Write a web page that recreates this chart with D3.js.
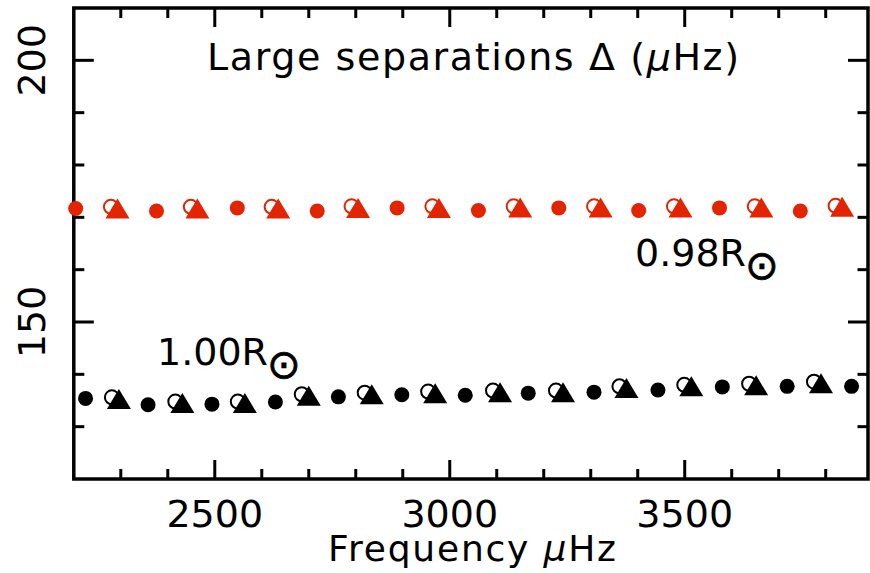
<!DOCTYPE html>
<html>
<head>
<meta charset="utf-8">
<script src="https://cdn.jsdelivr.net/npm/d3@7"></script>
<style>
  html, body { margin: 0; padding: 0; background: #fff; }
  svg { display: block; }
  text { font-family: "DejaVu Sans", sans-serif; fill: #000; }
</style>
</head>
<body>
<svg id="chart" width="870" height="573"></svg>
<script>
// ---- data ----
const xMajorTicks = [2500, 3000, 3500];
const yMajorTicks = [150, 200];

// 0.98 R_sun model (red)
const redFilledFreq  = [2204, 2376, 2548, 2718, 2888, 3061, 3232, 3402, 3574, 3746];
const redFilledDelta = [171.7, 171.2, 171.8, 171.2, 171.8, 171.3, 171.8, 171.3, 171.8, 171.2];
const redTriFreq     = [2293, 2463, 2635, 2805, 2977, 3150, 3321, 3491, 3663, 3835];
const redTriDelta    = [171.7, 171.7, 171.7, 171.8, 171.8, 171.9, 171.9, 171.9, 171.9, 172.0];
const redOpenFreq    = [2279, 2449, 2621, 2791, 2963, 3136, 3307, 3477, 3649, 3821];
const redOpenDelta   = [172.0, 172.0, 172.0, 172.1, 172.1, 172.1, 172.1, 172.1, 172.1, 172.2];

// 1.00 R_sun model (black)
const blackFilledFreq  = [2225, 2358, 2494, 2629, 2763, 2898, 3033, 3167, 3307, 3443, 3580, 3718, 3855];
const blackFilledDelta = [135.4, 134.2, 134.3, 134.7, 135.7, 136.1, 136.0, 136.4, 136.6, 137.0, 137.6, 137.7, 137.7];
const blackTriFreq     = [2296, 2431, 2564, 2700, 2834, 2969, 3107, 3241, 3376, 3514, 3652, 3790];
const blackTriDelta    = [135.3, 134.5, 134.5, 135.9, 136.2, 136.4, 136.6, 136.6, 137.4, 137.7, 137.9, 138.3];
const blackOpenFreq    = [2281, 2416, 2549, 2685, 2819, 2954, 3092, 3226, 3361, 3499, 3637, 3775];
const blackOpenDelta   = [135.6, 134.8, 134.8, 136.2, 136.5, 136.7, 136.9, 136.9, 137.7, 138.0, 138.2, 138.6];

const RED = "#e32400";
const BLACK = "#000000";

// ---- layout ----
const svg = d3.select("#chart");
const pLeft = 73.8, pRight = 868, pTop = 8, pBottom = 479;

const x = d3.scaleLinear().domain([2200, 3890]).range([pLeft, pRight]);
const y = d3.scaleLinear().domain([120, 210]).range([pBottom, pTop]);

const zip = (a, b) => a.map((v, i) => [v, b[i]]);

// ---- ticks (inward, all four sides) ----
const xMinor = d3.range(2300, 3890, 100);
const yMinor = d3.range(130, 210, 10);
const tickG = svg.append("g").attr("stroke", "#000").attr("stroke-width", 3);

xMinor.forEach(v => {
  const len = xMajorTicks.includes(v) ? 19 : 10;
  tickG.append("line").attr("x1", x(v)).attr("x2", x(v)).attr("y1", pBottom).attr("y2", pBottom - len);
  tickG.append("line").attr("x1", x(v)).attr("x2", x(v)).attr("y1", pTop).attr("y2", pTop + len);
});
yMinor.forEach(v => {
  const len = yMajorTicks.includes(v) ? 20 : 10.5;
  tickG.append("line").attr("y1", y(v)).attr("y2", y(v)).attr("x1", pLeft).attr("x2", pLeft + len);
  tickG.append("line").attr("y1", y(v)).attr("y2", y(v)).attr("x1", pRight).attr("x2", pRight - len);
});

// frame
svg.append("rect")
  .attr("x", pLeft).attr("y", pTop)
  .attr("width", pRight - pLeft).attr("height", pBottom - pTop)
  .attr("fill", "none").attr("stroke", "#000").attr("stroke-width", 3.5);

// tick labels
svg.append("g").selectAll("text").data(xMajorTicks).join("text")
  .attr("x", d => x(d)).attr("y", 527)
  .attr("text-anchor", "middle").attr("font-size", 38)
  .text(d => d);

svg.append("g").selectAll("text").data(yMajorTicks).join("text")
  .attr("transform", d => `translate(45,${y(d)}) rotate(-90)`)
  .attr("text-anchor", "middle").attr("font-size", 38)
  .text(d => d);

// axis title
const xt = svg.append("text")
  .attr("x", (pLeft + pRight) / 2 + 2).attr("y", 561)
  .attr("text-anchor", "middle").attr("font-size", 36)
  .attr("letter-spacing", 1.8);
xt.append("tspan").text("Frequency ");
xt.append("tspan").attr("font-style", "italic").text("\u03BC");
xt.append("tspan").text("Hz");

// plot title
const tt = svg.append("text")
  .attr("x", 207).attr("y", 70)
  .attr("font-size", 38)
  .attr("letter-spacing", 1.6);
tt.append("tspan").text("Large separations \u0394 (");
tt.append("tspan").attr("font-style", "italic").text("\u03BC");
tt.append("tspan").text("Hz)");

// ---- markers ----
const tri = "M0,-10L12,10L-12,10Z";

function drawSeries(color, openF, openD, triF, triD, fillF, fillD) {
  const g = svg.append("g");
  g.selectAll("circle.open").data(zip(openF, openD)).join("circle")
    .attr("class", "open")
    .attr("cx", d => x(d[0])).attr("cy", d => y(d[1])).attr("r", 7)
    .attr("fill", "none").attr("stroke", color).attr("stroke-width", 2);
  g.selectAll("path.tri").data(zip(triF, triD)).join("path")
    .attr("class", "tri")
    .attr("transform", d => `translate(${x(d[0])},${y(d[1])})`)
    .attr("d", tri).attr("fill", color);
  g.selectAll("circle.fill").data(zip(fillF, fillD)).join("circle")
    .attr("class", "fill")
    .attr("cx", d => x(d[0])).attr("cy", d => y(d[1])).attr("r", 7.5)
    .attr("fill", color);
}

drawSeries(RED, redOpenFreq, redOpenDelta, redTriFreq, redTriDelta, redFilledFreq, redFilledDelta);
drawSeries(BLACK, blackOpenFreq, blackOpenDelta, blackTriFreq, blackTriDelta, blackFilledFreq, blackFilledDelta);

// ---- labels ----
function sunLabel(tx, ty, txt) {
  const t = svg.append("text").attr("x", tx).attr("y", ty).attr("font-size", 38);
  t.append("tspan").text(txt);
  t.append("tspan").attr("font-size", 40).attr("dx", -1).attr("dy", 13)
    .attr("stroke", "#000").attr("stroke-width", 0.8).text("\u2299");
}
sunLabel(635, 266, "0.98R");
sunLabel(157, 365, "1.00R");
</script>
</body>
</html>
